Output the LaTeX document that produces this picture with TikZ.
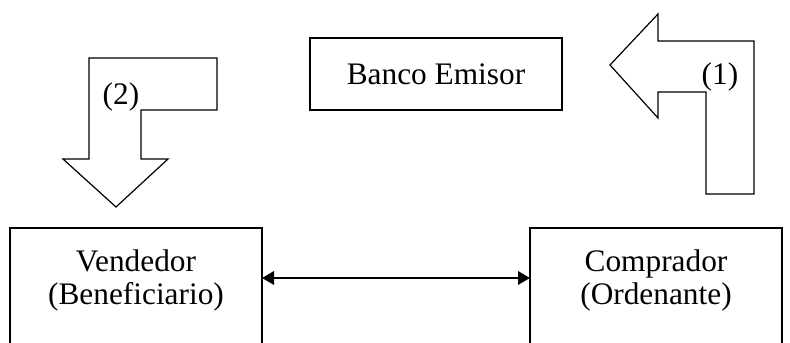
\documentclass[tikz,border=0pt]{standalone}
\usepackage{fontspec}
\setmainfont{Liberation Serif}
\usetikzlibrary{arrows.meta}
\begin{document}
\begin{tikzpicture}[x=0.75pt,y=-0.75pt,
  line width=0.9pt,
  txt/.style={font=\fontsize{23.5}{24.75}\selectfont, inner sep=0pt},
  lbox/.style={draw, line width=1.2pt},
  bigarrow/.style={draw, line width=0.9pt, line join=miter}]
\useasboundingbox (0,0) rectangle (790,343);
\clip (0,0) rectangle (790,343);
% boxes
\draw[lbox] (10,360) -- (10,228) -- (262,228) -- (262,360);
\draw[lbox] (530,360) -- (530,228) -- (782,228) -- (782,360);
\coordinate (vR) at (262,278);
\coordinate (cL) at (530,278);
\node[lbox, minimum width=252*0.75pt, minimum height=72*0.75pt, txt] (banco) at (436,74) {Banco Emisor};
\node[txt, align=center] (vend) at (136,280) {Vendedor\\(Beneficiario)};
\node[txt, align=center] (comp) at (656,280) {Comprador\\(Ordenante)};
\draw[line width=1.8pt, {Triangle[length=9pt,width=10pt]}-{Triangle[length=9pt,width=10pt]}] (vR) -- (cL);
% arrow (2)
\draw[bigarrow] (89,58) -- (217,58) -- (217,110) -- (141,110) -- (141,159) -- (168,159) -- (116,207) -- (63,159) -- (89,159) -- cycle;
\node[txt] (l2) at (121,97) {(2)};
% arrow (1)
\draw[bigarrow] (610,65) -- (658,14) -- (658,41) -- (754,41) -- (754,194) -- (706,194) -- (706,92) -- (658,92) -- (658,118) -- cycle;
\node[txt] (l1) at (720,77) {(1)};
\end{tikzpicture}
\end{document}
